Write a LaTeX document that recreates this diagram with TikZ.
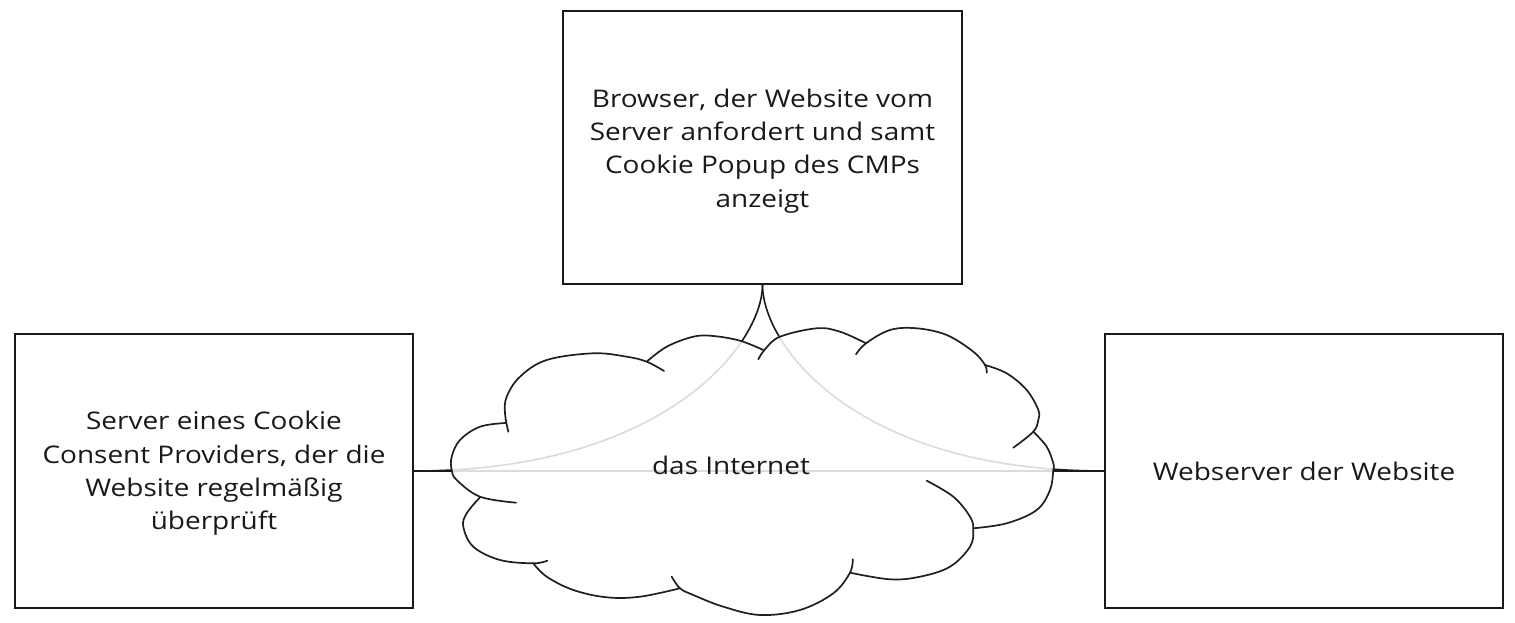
\documentclass[tikz,border=0pt]{standalone}
\usepackage{fontspec}
\setmainfont{Open Sans}[FakeStretch=1.15]
\begin{document}
\begin{tikzpicture}[x=1pt,y=-1pt,
  txt/.style={font=\fontsize{24.3}{33.3}\selectfont, align=center, text=black!90},
  box/.style={draw=black!90, line width=1.6pt, inner sep=0pt},
  link/.style={line width=1.6pt, draw=black!90},
  innerlink/.style={line width=1.6pt, draw=black!14},
  cloudline/.style={line width=1.7pt, draw=black!88, line cap=round, smooth, tension=0.6}]
\useasboundingbox (0,0) rectangle (1515,623);

% boxes
\node[box, minimum width=399pt, minimum height=273pt] (browser) at (762.5,147.5) {};
\node[box, minimum width=398pt, minimum height=274pt] (cmp) at (214,471) {};
\node[box, minimum width=398pt, minimum height=274pt] (web) at (1304,471) {};
\node[txt] (browsertext) at (762.5,151)
  {Browser, der Website vom\\Server anfordert und samt\\Cookie Popup des CMPs\\anzeigt};
\node[txt] (cmptext) at (214,473.5)
  {Server eines Cookie\\Consent Providers, der die\\Website regelmäßig\\überprüft};
\node[txt] (webtext) at (1304,471) {Webserver der Website};

% connectors (black everywhere)
\draw[link] (browser.south) .. controls +(0,60) and +(250,0) .. (cmp.east);
\draw[link] (browser.south) .. controls +(0,60) and +(-250,0) .. (web.west);
\draw[link] (cmp.east) -- (web.west);

% cloud outline (junction to junction)
\def\cloudpath{plot[smooth, tension=0.6] coordinates {(505.5,423) (505,413.3) (506.7,396.7) (520,376.7) (546.7,360) (593.3,353.3) (626.7,356.7) (646.7,361.7)}
 -- plot[smooth, tension=0.6] coordinates {(646.7,361.7) (666.7,346.7) (693.3,336.7) (713.3,336) (740,340.7) (763.3,350)}
 -- plot[smooth, tension=0.6] coordinates {(763.3,350) (780,336.7) (816.7,328.3) (840,331.7) (866,343.3)}
 -- plot[smooth, tension=0.6] coordinates {(866,343.3) (890,330) (916.7,328.3) (946.7,335) (973.3,351.7) (985,365)}
 -- plot[smooth, tension=0.6] coordinates {(985,365) (1006.7,373.3) (1026.7,390) (1038.3,410) (1038.3,420) (1033.3,431.7)}
 -- plot[smooth, tension=0.6] coordinates {(1033.3,431.7) (1046.7,446.7) (1053.3,463.3) (1053.3,470) (1050,490) (1036.7,510) (1006.7,523.3) (973.3,528.3)}
 -- plot[smooth, tension=0.6] coordinates {(973.3,528.3) (970,546.7) (950,566.7) (920,576.7) (890,579.3) (850,572.7)}
 -- plot[smooth, tension=0.6] coordinates {(850,572.7) (833.3,593.3) (800,610) (760,615) (723.3,606.7) (693.3,595) (680,588.3)}
 -- plot[smooth, tension=0.6] coordinates {(680,588.3) (640,596.7) (606.7,597.3) (573.3,590) (546.7,576.7) (533.3,563.3)}
 -- plot[smooth, tension=0.6] coordinates {(533.3,563.3) (500,560) (473.3,546.7) (463.3,526.7) (466.7,513.3) (480,497.3)}
 -- plot[smooth, tension=0.6] coordinates {(480,497.3) (456.7,480) (451.7,470) (451.7,456.7) (460,440) (480,426.7) (505.5,423)}
 -- cycle}

\fill[white] \cloudpath;

% connectors seen through the cloud
\begin{scope}
\clip \cloudpath;
\draw[innerlink] (browser.south) .. controls +(0,60) and +(250,0) .. (cmp.east);
\draw[innerlink] (browser.south) .. controls +(0,60) and +(-250,0) .. (web.west);
\draw[innerlink] (cmp.east) -- (web.west);
\end{scope}

% cloud lobes with their tails
\draw[cloudline] plot coordinates {(505.5,423) (480,426.7) (460,440) (451.7,456.7) (451.7,470) (456.7,480) (480,496.7) (516,502.7)};
\draw[cloudline] plot coordinates {(508.3,431.7) (505,413.3) (506.7,396.7) (520,376.7) (546.7,360) (593.3,353.3) (626.7,356.7) (646.7,361.7) (664,371)};
\draw[cloudline] plot coordinates {(646.7,361.7) (666.7,346.7) (693.3,336.7) (713.3,336) (740,340.7) (763.3,350)};
\draw[cloudline] plot coordinates {(758.3,359.3) (765,349.3) (780,336.7) (816.7,328.3) (840,331.7) (866,343.3)};
\draw[cloudline] plot coordinates {(856,354.3) (866,343.3) (890,330) (916.7,328.3) (946.7,335) (973.3,351.7) (985,365) (986.7,372.7)};
\draw[cloudline] plot coordinates {(985,365) (1006.7,373.3) (1026.7,390) (1038.3,410) (1038.3,420) (1033.3,431.7) (1013.3,447.7)};
\draw[cloudline] plot coordinates {(1033.3,431.7) (1046.7,446.7) (1053.3,463.3) (1053.3,470) (1050,490) (1036.7,510) (1006.7,523.3) (973.3,528.3)};
\draw[cloudline] plot coordinates {(926.7,480.7) (953.3,496.7) (970,516.7) (973.3,530) (970,546.7) (950,566.7) (920,576.7) (890,579.3) (850,572.7)};
\draw[cloudline] plot coordinates {(852.7,559.3) (850,572.7) (833.3,593.3) (800,610) (760,615) (723.3,606.7) (693.3,595) (680,588.3) (671.7,576.7)};
\draw[cloudline] plot coordinates {(680,588.3) (640,596.7) (606.7,597.3) (573.3,590) (546.7,576.7) (533.3,563.3)};
\draw[cloudline] plot coordinates {(480,497.3) (466.7,513.3) (463.3,526.7) (473.3,546.7) (500,560) (533.3,563.3) (547.3,560.7)};

\node[txt, anchor=base] (inet) at (731,474) {das Internet};
\end{tikzpicture}
\end{document}
